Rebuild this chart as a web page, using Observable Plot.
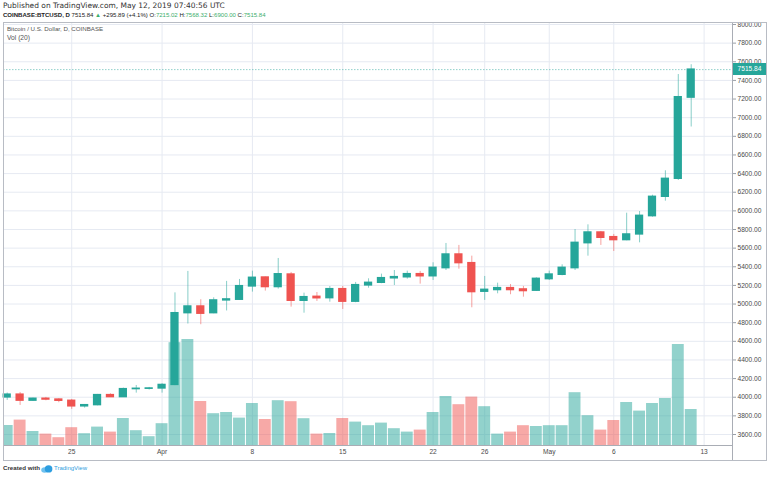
<!DOCTYPE html>
<html><head><meta charset="utf-8">
<script src="https://cdn.jsdelivr.net/npm/d3@7"></script>
<script src="https://cdn.jsdelivr.net/npm/@observablehq/plot@0.6"></script>
<style>
body{margin:0;background:#fff;font-family:"Liberation Sans",Arial,sans-serif;}
#root{position:relative;width:768px;height:477px;overflow:hidden;background:#fff;}
.abs{position:absolute;white-space:nowrap;line-height:10px;}
.layer{position:absolute;left:0;top:20px;}
.g{color:#3bae6c;}
</style></head><body><div id="root"></div>
<script>
// ---- data ----
const startDate = "2019-03-20";
const endDate = "2019-05-13"; // exclusive
const open  = [3998,4028,3963,3984,3975,3962,3902,3915,4023,4001,4087,4091,4094,4132,4902,4974,4902,5039,5046,5189,5285,5182,5317,5035,5078,5063,5160,5025,5200,5228,5276,5287,5321,5298,5385,5532,5439,5132,5150,5171,5157,5143,5267,5314,5385,5653,5768,5718,5686,5747,5943,6151,6344,7215.02];
const high  = [4045,4051,3990,3998,3984,3976,3922,4030,4037,4098,4126,4105,4145,5120,5350,5046,5067,5243,5264,5353,5290,5489,5339,5117,5124,5188,5189,5232,5271,5321,5360,5353,5350,5443,5650,5629,5514,5296,5224,5210,5189,5282,5353,5421,5800,5850,5779,5747,5975,5993,6168,6430,7463,7568.32];
const low   = [3966,3912,3955,3962,3941,3869,3883,3908,3998,4001,4044,4077,4044,4125,4786,4778,4896,4926,5039,5128,5139,5160,4967,4902,5028,5020,4942,5014,5170,5218,5199,5267,5214,5253,5360,5374,4960,5039,5110,5100,5074,5135,5253,5303,5360,5514,5629,5564,5679,5657,5932,6104,6326,6900];
const close = [4028,3963,3984,3975,3962,3902,3915,4023,4001,4087,4091,4094,4132,4902,4974,4896,5039,5050,5192,5282,5182,5320,5035,5074,5062,5160,5025,5203,5228,5278,5289,5321,5298,5389,5532,5439,5128,5153,5171,5150,5139,5271,5317,5389,5657,5768,5711,5686,5747,5947,6151,6344,7219.95,7515.84];
const volume = [10.0,12.7,7.0,5.7,3.9,8.9,5.9,9.2,6.7,13.5,7.4,4.4,10.9,51.4,53.0,22.0,15.9,16.5,13.7,21.0,13.0,22.4,21.9,13.4,5.7,6.0,13.5,11.7,9.9,11.2,8.4,6.7,7.7,16.5,24.5,20.4,24.2,19.4,5.7,6.7,9.9,9.5,9.9,9.9,26.4,14.9,7.7,12.5,21.5,17.2,21.0,23.5,50.5,18.0];
const tickDates  = ["2019-03-25","2019-04-01","2019-04-08","2019-04-15","2019-04-22","2019-04-26","2019-05-01","2019-05-06","2019-05-13"];
const tickLabels = ["25","Apr","8","15","22","26","May","6","13"];
const priceTicks = [3600,3800,4000,4200,4400,4600,4800,5000,5200,5400,5600,5800,6000,6200,6400,6600,6800,7000,7200,7400,7600,7800,8000];
const lastPrice = 7515.84;

// ---- derived table ----
const UP = "#26a69a", DOWN = "#ef5350";
const dates = d3.utcDay.range(new Date(startDate), new Date(endDate));
const DAY = 864e5;
const rows = dates.map((d, i) => ({date: d, open: open[i], high: high[i], low: low[i], close: close[i], vol: volume[i], up: close[i] >= open[i]}));
const ticks = tickDates.map(s => new Date(s));

const W = 768, H = 442;
const common = {
  width: W, height: H, marginLeft: 3, marginRight: 36, marginTop: 2, marginBottom: 17,
  x: {type: "utc", domain: [dates[0], dates[dates.length - 1]], range: [6.7, 690.7], axis: null},
  color: {type: "identity"},
  style: {background: "transparent", fontFamily: "Liberation Sans, Arial, sans-serif", fontSize: "6.6px", color: "#4a4a4a", overflow: "visible"}
};
const priceY = {domain: [3600, 8000], range: [414, 4], axis: null};

const root = document.getElementById("root");

// layer 1: grid, axes, frame
const base = Plot.plot({
  ...common, y: priceY,
  marks: [
    Plot.gridY(priceTicks, {stroke: "#e6eaf2", strokeOpacity: 1}),
    Plot.gridX(ticks, {stroke: "#e6eaf2", strokeOpacity: 1}),
    Plot.axisY(priceTicks, {anchor: "right", tickFormat: d => d.toFixed(2), tickSize: 3, tickPadding: 2, stroke: "#9aa0a8", fill: "#4a4a4a"}),
    Plot.text(ticks, {x: d => d, text: (d, i) => tickLabels[i], frameAnchor: "bottom", dy: 8.5, fill: "#4a4a4a"}),
    Plot.frame({stroke: "#a9adb5"})
  ]
});
base.classList.add("layer"); root.appendChild(base);

// layer 2: volume
const vol = Plot.plot({
  ...common, y: {domain: [0, 100], range: [425, 225], axis: null},
  marks: [
    Plot.rect(rows, {x1: d => new Date(+d.date - 0.46 * DAY), x2: d => new Date(+d.date + 0.46 * DAY), y1: 0, y2: "vol", fill: d => d.up ? UP : DOWN, fillOpacity: 0.5, clip: true})
  ]
});
vol.classList.add("layer"); root.appendChild(vol);

// layer 3: candles
const candles = Plot.plot({
  ...common, y: priceY,
  marks: [
    Plot.ruleY([lastPrice], {stroke: UP, strokeOpacity: 0.5, strokeDasharray: "1.5,1.5"}),
    Plot.ruleX(rows, {x: "date", y1: "low", y2: "high", stroke: d => d.up ? UP : DOWN, strokeOpacity: 0.55}),
    Plot.rect(rows, {x1: d => new Date(+d.date - 0.32 * DAY), x2: d => new Date(+d.date + 0.32 * DAY), y1: d => Math.min(d.open, d.close), y2: d => Math.max(d.open, d.close), fill: d => d.up ? UP : DOWN, insetTop: -0.7, insetBottom: -0.7})
  ]
});
candles.classList.add("layer"); root.appendChild(candles);

function addDiv(html, css) { const e = document.createElement("div"); e.className = "abs"; e.innerHTML = html; Object.assign(e.style, css); root.appendChild(e); return e; }
function fit(el, target) { const w = el.getBoundingClientRect().width; const fs = parseFloat(el.style.fontSize); if (w > 0) el.style.fontSize = (fs * target / w).toFixed(2) + "px"; return el; }

// price label on the axis
const yPix = candles.scale("y").apply(lastPrice);
addDiv(lastPrice.toFixed(2), {left: "733px", top: (20 + yPix - 6) + "px", width: "33px", height: "12px", lineHeight: "12px", background: UP, color: "#fff", fontSize: "6.6px", textAlign: "center"});

// outer frame and axis separator
addDiv("", {left: "3px", top: "22px", width: "764px", height: "439px", border: "1px solid #b8bcc4", boxSizing: "border-box"});
addDiv("", {left: "732px", top: "445px", width: "1px", height: "15px", background: "#a9adb5"});

// header texts
fit(addDiv("Published on TradingView.com, May 12, 2019 07:40:56 UTC", {left: "3px", top: "1px", fontSize: "7px", color: "#333", fontFamily: "'DejaVu Sans', sans-serif"}), 222);
fit(addDiv('<b>COINBASE:BTCUSD, D</b> 7515.84 <span class="g">▲</span> +295.89 (+4.1%) O:<span class="g">7215.02</span> H:<span class="g">7568.32</span> L:<span class="g">6900.00</span> C:<span class="g">7515.84</span>', {left: "3px", top: "10px", fontSize: "6.6px", color: "#222"}), 263);
fit(addDiv("Bitcoin / U.S. Dollar, D, COINBASE", {left: "7px", top: "24px", fontSize: "6.4px", color: "#555"}), 96);
fit(addDiv("Vol (20)", {left: "7px", top: "33px", fontSize: "6.4px", color: "#555"}), 23);

// footer
fit(addDiv("Created with", {left: "3px", top: "463px", fontSize: "7px", color: "#333", fontWeight: "600"}), 37);
addDiv('<svg width="12" height="8" viewBox="0 0 12 8"><ellipse cx="3.6" cy="5" rx="3.4" ry="2.8" fill="#6ec1ef"/><ellipse cx="7.6" cy="3.9" rx="3.8" ry="3.7" fill="#2d9ee0"/></svg>', {left: "41px", top: "464px", lineHeight: "8px"});
fit(addDiv("TradingView", {left: "54px", top: "463px", fontSize: "7px", color: "#2d9ee0"}), 33);
</script></body></html>
